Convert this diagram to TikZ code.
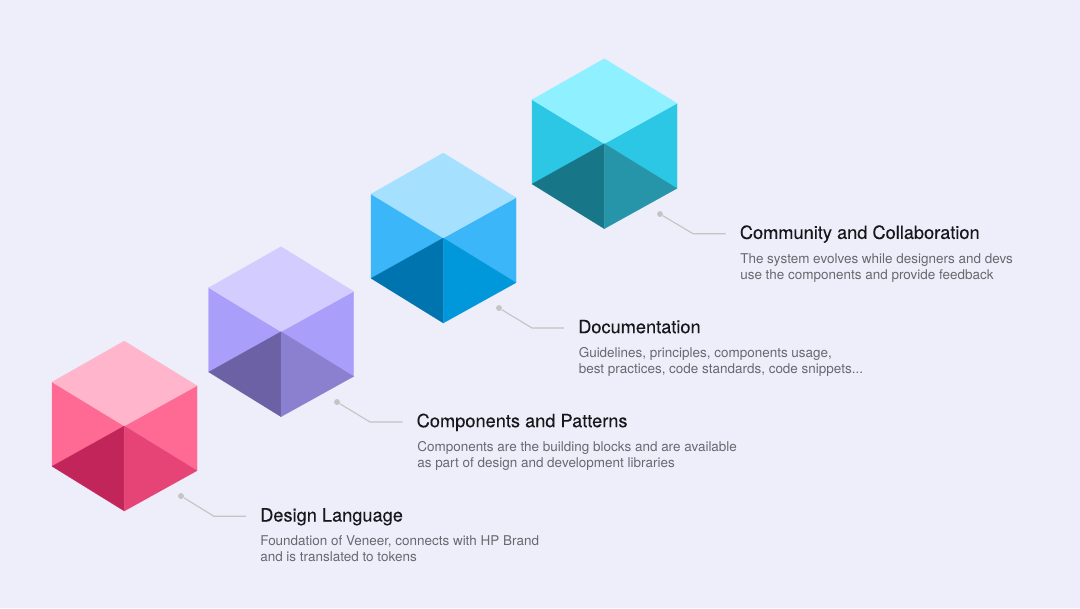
\documentclass[tikz,border=0pt]{standalone}
\usepackage{fontspec}
\setmainfont{TeX Gyre Heros}
\newfontfamily\headfont[FakeBold=0.2]{TeX Gyre Heros}
\usepackage{xcolor}
\definecolor{pagebg}{RGB}{238,238,250}
\definecolor{headink}{RGB}{24,24,28}
\definecolor{bodyink}{RGB}{104,104,112}
\definecolor{leaderline}{RGB}{196,196,196}
\definecolor{pinktop}{RGB}{255,182,204}
\definecolor{pinkside}{RGB}{255,106,149}
\definecolor{pinkdark}{RGB}{194,37,90}
\definecolor{pinkmid}{RGB}{230,67,119}
\definecolor{violettop}{RGB}{210,204,255}
\definecolor{violetside}{RGB}{169,158,249}
\definecolor{violetdark}{RGB}{108,97,165}
\definecolor{violetmid}{RGB}{138,128,207}
\definecolor{bluetop}{RGB}{165,224,255}
\definecolor{blueside}{RGB}{59,182,249}
\definecolor{bluedark}{RGB}{0,116,174}
\definecolor{bluemid}{RGB}{0,152,218}
\definecolor{cyantop}{RGB}{143,240,255}
\definecolor{cyanside}{RGB}{44,199,228}
\definecolor{cyandark}{RGB}{24,118,137}
\definecolor{cyanmid}{RGB}{39,149,169}
% one cube: shift x, shift y, then top, side, dark and mid colours
\newcommand{\isocube}[6]{%
  \begin{scope}[shift={(#1,#2)}, line width=0.15pt]
    \filldraw[#4] (52,382) -- (124.3,426) -- (52,466.3) -- cycle;
    \filldraw[#4] (197,385.7) -- (197,470.7) -- (124.3,426) -- cycle;
    \filldraw[#3] (124.3,341) -- (197,385.7) -- (124.3,426) -- (52,382) -- cycle;
    \filldraw[#5] (52,466.3) -- (124.3,426) -- (124.3,511) -- cycle;
    \filldraw[#6] (124.3,426) -- (197,470.7) -- (124.3,511) -- cycle;
  \end{scope}}
\begin{document}
\begin{tikzpicture}[x=0.025cm, y=-0.025cm,
    headtext/.style={anchor=west, headink, font=\headfont\fontsize{12.95}{15}\selectfont, inner xsep=9.9pt,
      inner ysep=0pt, text height=10.2pt, text depth=2.8pt},
    bodytext/.style={anchor=north west, bodyink, align=left, inner sep=0pt,
      font=\fontsize{9.58}{11.4}\selectfont},
    leaderdot/.style={circle, fill=leaderline, inner sep=0pt, minimum size=4.2pt},
    leader/.style={draw=leaderline, line width=0.8pt}]
  \fill[pagebg] (0,0) rectangle (1080,608);
  % the four cubes, lower left to upper right
  \isocube{0}{0}{pinktop}{pinkside}{pinkdark}{pinkmid}
  \isocube{156.7}{-94.3}{violettop}{violetside}{violetdark}{violetmid}
  \isocube{319}{-188}{bluetop}{blueside}{bluedark}{bluemid}
  \isocube{480}{-282.3}{cyantop}{cyanside}{cyandark}{cyanmid}
  % design language
  \node[leaderdot] (dotone) at (181,496) {};
  \coordinate (bendone) at (214,516.3);
  \node[headtext] (headone) at (246,516.3) {Design Language};
  \node[bodytext] (bodyone) at (260,535.5) {Foundation of Veneer, connects with HP Brand\\ and is translated to tokens};
  \draw[leader] (dotone) -- (bendone) -- (headone.west);
  % components and patterns
  \node[leaderdot] (dottwo) at (337,402) {};
  \coordinate (bendtwo) at (370,422);
  \node[headtext] (headtwo) at (402.5,422) {Components and Patterns};
  \node[bodytext] (bodytwo) at (417,441.5) {Components are the building blocks and are available\\ as part of design and development libraries};
  \draw[leader] (dottwo) -- (bendtwo) -- (headtwo.west);
  % documentation
  \node[leaderdot] (dotthree) at (499,308) {};
  \coordinate (bendthree) at (532,328);
  \node[headtext] (headthree) at (564,328) {Documentation};
  \node[bodytext] (bodythree) at (578.5,347.5) {Guidelines, principles, components usage,\\ best practices, code standards, code snippets...};
  \draw[leader] (dotthree) -- (bendthree) -- (headthree.west);
  % community and collaboration
  \node[leaderdot] (dotfour) at (660,214) {};
  \coordinate (bendfour) at (693,233.7);
  \node[headtext] (headfour) at (725.7,233.7) {Community and Collaboration};
  \node[bodytext] (bodyfour) at (740,253.5) {The system evolves while designers and devs\\ use the components and provide feedback};
  \draw[leader] (dotfour) -- (bendfour) -- (headfour.west);
\end{tikzpicture}
\end{document}
